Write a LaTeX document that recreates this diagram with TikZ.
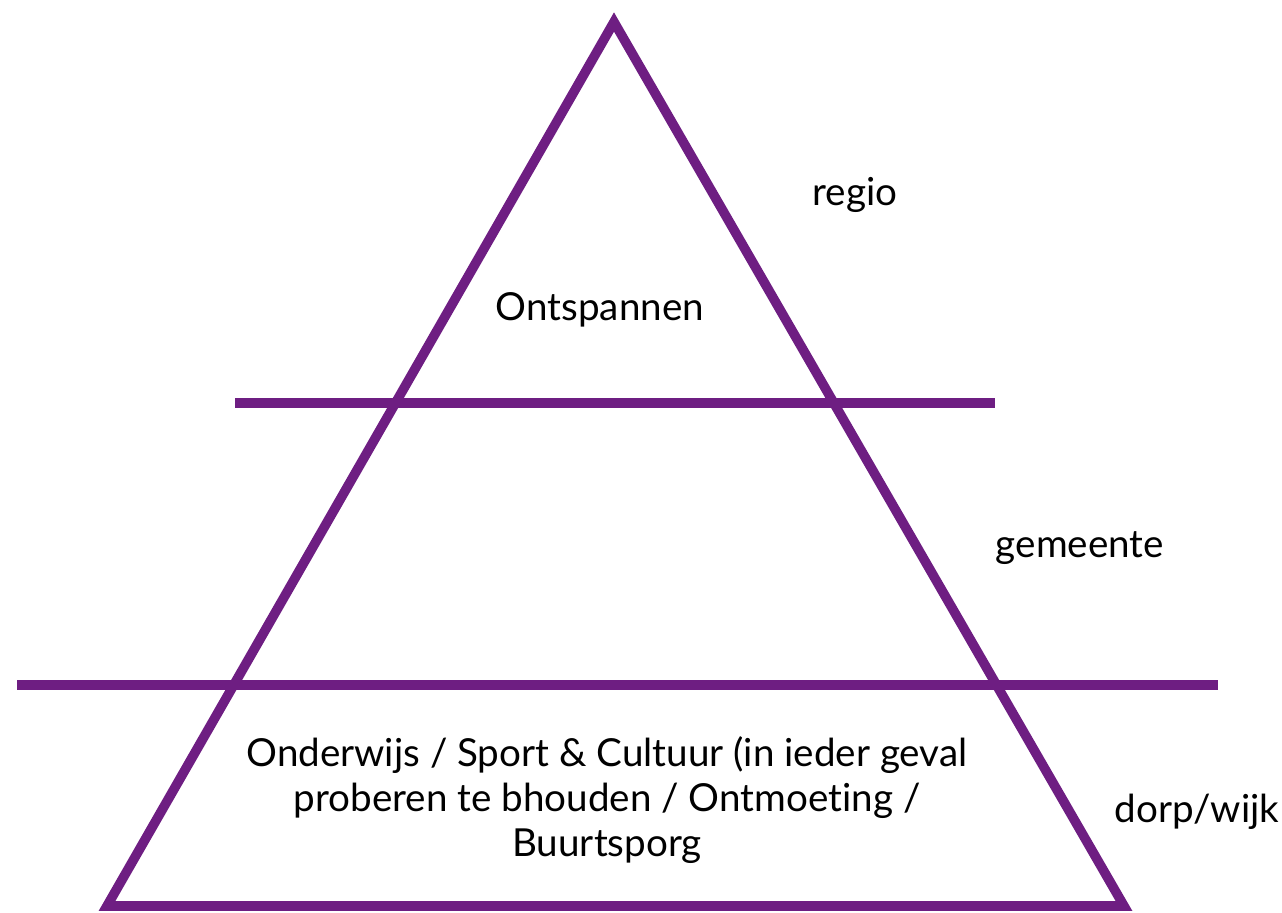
\documentclass[tikz,border=0pt]{standalone}
\usepackage{fontspec}
\setmainfont{Lato}[Ligatures=NoCommon]
\definecolor{paars}{RGB}{110,30,130}

\begin{document}
\begin{tikzpicture}[x=0.5pt,y=-0.5pt]
\tikzset{lijn/.style={paars, line width=4.8pt},
  tekst/.style={font=\fontsize{19.3}{22.5}\selectfont, align=center, inner sep=0pt}}
\useasboundingbox (0,0) rectangle (1282,913);

\draw[lijn, line join=miter] (614,22) -- (107,906) -- (1124,906) -- cycle;
\draw[lijn] (235,403) -- (995,403);
\draw[lijn] (17,685) -- (1218,685);

\node[tekst] (regio) at (855,195) {regio};
\node[tekst] (ontspannen) at (600,310) {Ontspannen};
\node[tekst] (gemeente) at (1080,548) {gemeente};
\node[tekst] (dorp) at (1197,812) {dorp/wijk};
\node[tekst] (basis) at (607,800) {Onderwijs / Sport \& Cultuur (in ieder geval\\
  proberen te bhouden / Ontmoeting /\\ Buurtsporg};

\end{tikzpicture}
\end{document}
